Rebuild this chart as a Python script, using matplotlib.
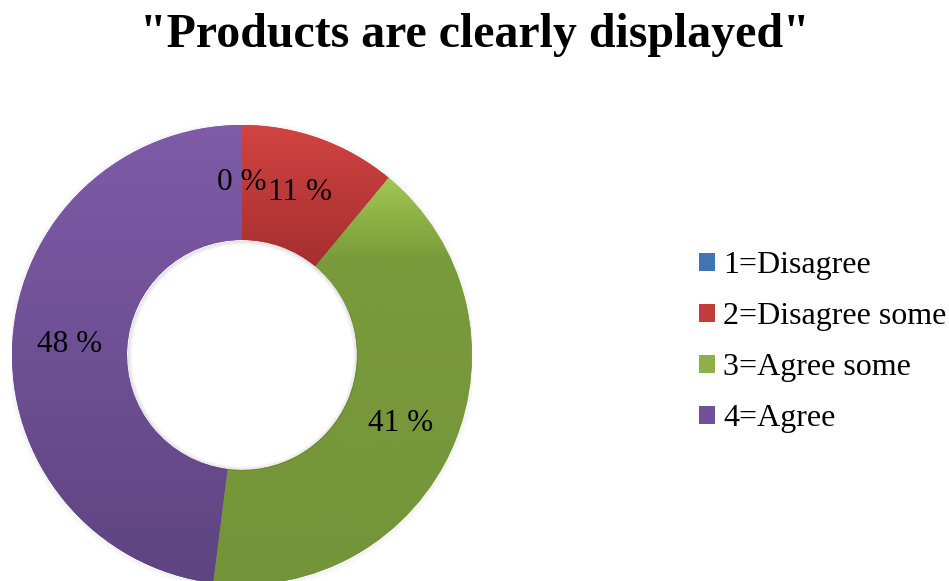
import matplotlib.pyplot as plt
import matplotlib.colors as mcolors
import numpy as np
from matplotlib.patches import Patch, Wedge

# Survey answers, share of respondents in percent
categories = ["1=Disagree", "2=Disagree some", "3=Agree some", "4=Agree"]
shares = [0, 11, 41, 48]

# colour stops (bottom ... top) for each slice's vertical fade
shades = [
    [(0.0, "#3A6BA5"), (1.0, "#5A8BCB")],
    [(0.0, "#A52F2F"), (1.0, "#D14442")],
    [(0.0, "#74943A"), (0.80, "#7A9B3A"), (1.0, "#A2C752")],
    [(0.0, "#5E4481"), (1.0, "#7F5BA8")],
]
solid = ["#3F74B5", "#C23C3A", "#8DB048", "#70529A"]

plt.rcParams["font.family"] = ["Liberation Serif", "DejaVu Serif"]

W, H = 949, 581
fig = plt.figure(figsize=(W / 100, H / 100), dpi=100, facecolor="white")

# donut centre and outer radius in pixels
cx, cy, R = 242, H - 355, 230
ax = fig.add_axes([(cx - R) / W, (cy - R) / H, 2 * R / W, 2 * R / H])

wedges, _ = ax.pie(
    shares, startangle=90, counterclock=False, radius=1.0,
    wedgeprops=dict(width=0.5, edgecolor="none", linewidth=0),
    colors=solid, frame=False,
)

# soft shadow outside the ring and just inside the hole
for k in range(6):
    ax.add_patch(Wedge((0, -0.004), 1.0 + 0.004 * (k + 1), 0, 360, width=0.004,
                       facecolor="#000000", alpha=0.05 * (6 - k) / 6,
                       edgecolor="none", zorder=0))
for k in range(5):
    ax.add_patch(Wedge((0.003, -0.003), 0.5, 0, 360, width=0.004 * (k + 1),
                       facecolor="#000000", alpha=0.025, edgecolor="none",
                       zorder=4))

# vertical gradient fill clipped to each wedge
ramp = np.linspace(0, 1, 256).reshape(-1, 1)
for w, stops, v in zip(wedges, shades, shares):
    if v == 0:
        continue
    ext = w.get_path().get_extents()
    cmap = mcolors.LinearSegmentedColormap.from_list("fade", stops)
    img = ax.imshow(ramp, extent=[ext.x0, ext.x1, ext.y0, ext.y1], origin="lower",
                    cmap=cmap, aspect="auto", zorder=w.get_zorder() + 0.1,
                    interpolation="bicubic")
    img.set_clip_path(w)

ax.set_xlim(-1, 1)
ax.set_ylim(-1, 1)
ax.set_aspect("equal")
ax.axis("off")

# percent labels at the middle of the ring
for w, v in zip(wedges, shares):
    mid = np.deg2rad((w.theta1 + w.theta2) / 2)
    ax.text(0.75 * np.cos(mid), 0.75 * np.sin(mid), f"{v} %",
            ha="center", va="center", fontsize=22.5, color="black", zorder=5)

fig.text(0.5, 1 - 35 / H, "\"Products are clearly displayed\"",
         ha="center", va="center", fontsize=34.5, fontweight="bold")

handles = [Patch(facecolor=c, edgecolor="none") for c in solid]
fig.legend(handles, categories, loc="upper left",
           bbox_to_anchor=(699 / W, 1 - 251 / H), frameon=False,
           fontsize=23, handlelength=0.5, handleheight=0.5,
           handletextpad=0.25, labelspacing=0.69, borderpad=0, borderaxespad=0)

fig.savefig("out.png", dpi=100, facecolor="white")
